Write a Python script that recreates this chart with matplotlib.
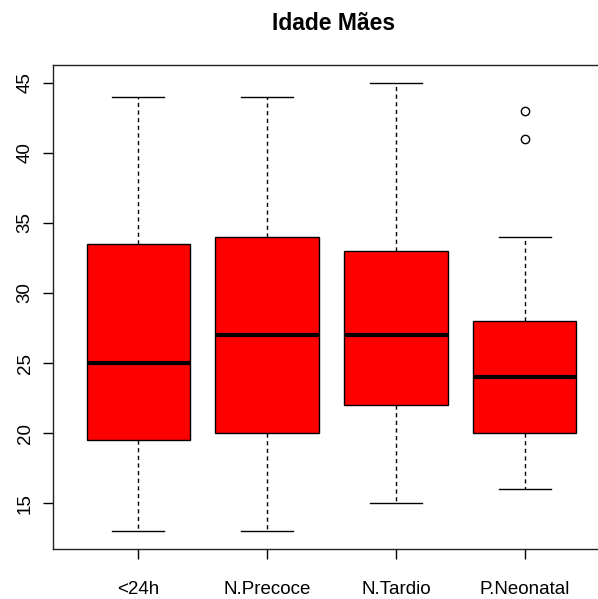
import matplotlib
matplotlib.use("Agg")
import matplotlib.pyplot as plt

categories = ["<24h", "N.Precoce", "N.Tardio", "P.Neonatal"]
whislo = [13, 13, 15, 16]
q1 = [19.5, 20, 22, 20]
med = [25, 27, 27, 24]
q3 = [33.5, 34, 33, 28]
whishi = [44, 44, 45, 34]
fliers = [[], [], [], [41, 43]]
title = "Idade Mães"
yticks = [15, 20, 25, 30, 35, 40, 45]

plt.rcParams['font.family'] = ['Liberation Sans', 'DejaVu Sans']

W, H = 598, 599
fig = plt.figure(figsize=(W / 100, H / 100), dpi=100)
ax = fig.add_axes([53 / W, (H - 549) / H, 557 / W, 484 / H])

stats = []
for i in range(len(categories)):
    stats.append(dict(label=categories[i], whislo=whislo[i], q1=q1[i], med=med[i],
                      q3=q3[i], whishi=whishi[i], fliers=fliers[i]))

pos = list(range(1, len(categories) + 1))
ax.bxp(stats, positions=pos, widths=0.8, capwidths=0.4, patch_artist=True,
       boxprops=dict(facecolor='#ff0000', edgecolor='black', linewidth=1),
       medianprops=dict(color='black', linewidth=3, solid_capstyle='butt'),
       whiskerprops=dict(color='black', linewidth=1, linestyle=(0, (3, 2.5))),
       capprops=dict(color='black', linewidth=1),
       flierprops=dict(marker='o', markerfacecolor='none', markeredgecolor='black',
                       markersize=6, markeredgewidth=1))

ax.set_xlim(0.34, 4.66)
ax.set_ylim(11.72, 46.28)
ax.set_xticks(pos)
ax.set_xticklabels(categories, fontsize=13.5)
ax.set_yticks(yticks)
ax.set_yticklabels([str(v) for v in yticks], fontsize=13.5, rotation=90, va='center')
ax.tick_params(axis='x', length=7, width=1, pad=16, colors='black')
ax.tick_params(axis='y', length=7, width=1, pad=7, colors='black')
for s in ax.spines.values():
    s.set_linewidth(1)
    s.set_color('#222222')

fig.text(334 / W, 1 - 23 / H, title, ha='center', va='center', fontsize=16.5, fontweight='bold')

fig.savefig("out.png", dpi=100)
